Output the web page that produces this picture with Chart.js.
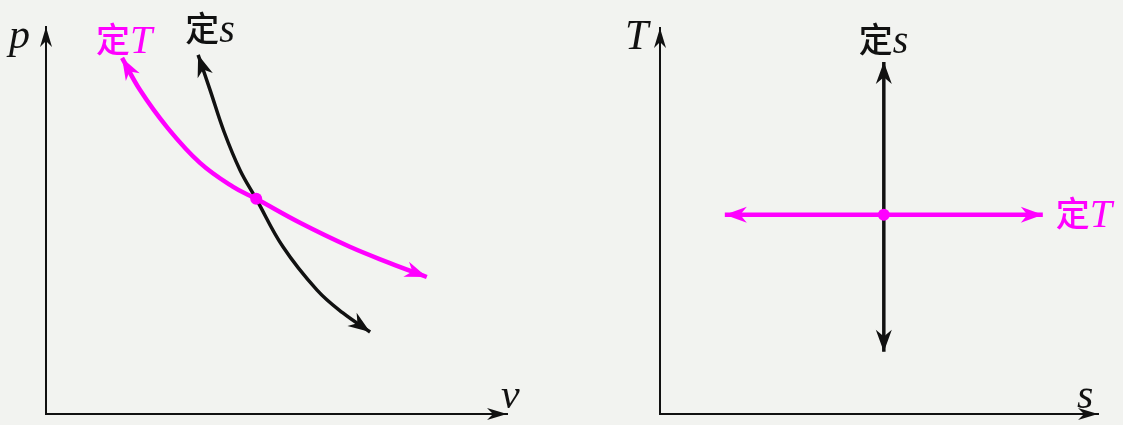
<!DOCTYPE html>
<html>
<head>
<meta charset="utf-8">
<script src="https://cdn.jsdelivr.net/npm/chart.js@4.4.1/dist/chart.umd.min.js"></script>
<style>
  html, body { margin: 0; padding: 0; background: #f2f3f0; overflow: hidden; }
  #wrap { position: relative; width: 1123px; height: 425px; }
  canvas { position: absolute; top: 0; }
  #pv { left: 0; }
  #ts { left: 560px; }
</style>
</head>
<body>
<div id="wrap">
  <canvas id="pv" width="560" height="425"></canvas>
  <canvas id="ts" width="563" height="425"></canvas>
</div>
<script>
// p-v diagram: isotherm (定T) and isentrope (定s) through one state
const isoTVolume = [1.65, 2.04, 2.62, 3.34, 4.06, 4.56, 5.51, 6.59, 7.46, 8.26];
const isoTPressure = [9.20, 8.37, 7.42, 6.49, 5.87, 5.56, 4.94, 4.32, 3.90, 3.54];
const isoSVolume = [3.30, 3.56, 3.86, 4.21, 4.56, 5.14, 5.88, 6.44, 7.03];
const isoSPressure = [9.28, 8.37, 7.30, 6.30, 5.56, 4.32, 3.20, 2.61, 2.12];
const pvState = [4.56, 5.56];

// T-s diagram: same two processes are straight lines
const tsIsoSEntropy = [5.11, 5.11];
const tsIsoSTemp = [1.61, 9.12];
const tsIsoTEntropy = [1.48, 8.74];
const tsIsoTTemp = [5.16, 5.16];
const tsState = [5.11, 5.16];

const pvAxisLabels = ['p', 'v'];
const tsAxisLabels = ['T', 's'];
const processLabels = ['定', 'T', 's'];

const MAGENTA = '#ff00ff';
const INK = '#111111';
const CJK = '"Noto Sans CJK SC", "Noto Sans", sans-serif';
const SERIF = '"Liberation Serif", "DejaVu Serif", serif';

function zip(xs, ys) {
    return xs.map((x, i) => ({ x: x, y: ys[i] }));
}

function arrowHead(ctx, tipX, tipY, fromX, fromY, len, half, color) {
    const a = Math.atan2(tipY - fromY, tipX - fromX);
    ctx.save();
    ctx.translate(tipX, tipY);
    ctx.rotate(a);
    ctx.fillStyle = color;
    ctx.beginPath();
    ctx.moveTo(0, 0);
    ctx.lineTo(-len, -half);
    ctx.lineTo(-len * 0.7, 0);
    ctx.lineTo(-len, half);
    ctx.closePath();
    ctx.fill();
    ctx.restore();
}

// "定" + italic letter
function processLabel(ctx, x, cy, letter, color) {
    ctx.save();
    ctx.fillStyle = color;
    ctx.font = '500 34px ' + CJK;
    ctx.textBaseline = 'middle';
    ctx.textAlign = 'left';
    ctx.fillText(processLabels[0], x, cy);
    const w = ctx.measureText(processLabels[0]).width;
    ctx.font = 'italic 40px ' + SERIF;
    ctx.textBaseline = 'alphabetic';
    ctx.fillText(letter, x + w, cy + 14);
    ctx.restore();
}

function axisText(ctx, text, x, y) {
    ctx.save();
    ctx.fillStyle = INK;
    ctx.font = 'italic 42px ' + SERIF;
    ctx.textBaseline = 'alphabetic';
    ctx.textAlign = 'left';
    ctx.fillText(text, x, y);
    ctx.restore();
}

// arrows on the axes and on both ends of every process line
const arrowPlugin = {
    id: 'arrows',
    afterDatasetsDraw(chart) {
        const ctx = chart.ctx;
        const ca = chart.chartArea;
        arrowHead(ctx, ca.left, ca.top, ca.left, ca.top + 30, 20, 6, INK);
        arrowHead(ctx, ca.right, ca.bottom, ca.right - 30, ca.bottom, 20, 6, INK);

        chart.data.datasets.forEach((ds, i) => {
            if (!ds.arrows) return;
            const pts = chart.getDatasetMeta(i).data;
            const first = pts[0], second = pts[1];
            const last = pts[pts.length - 1], prev = pts[pts.length - 2];
            const fx = first.cp2x !== undefined && first.cp2x !== first.x ? first.cp2x : second.x;
            const fy = first.cp2y !== undefined && first.cp2x !== first.x ? first.cp2y : second.y;
            const lx = last.cp1x !== undefined && last.cp1x !== last.x ? last.cp1x : prev.x;
            const ly = last.cp1y !== undefined && last.cp1x !== last.x ? last.cp1y : prev.y;
            arrowHead(ctx, first.x, first.y, fx, fy, 22, 8, ds.borderColor);
            arrowHead(ctx, last.x, last.y, lx, ly, 22, 8, ds.borderColor);
        });
    },
    afterDraw(chart) {
        const ctx = chart.ctx;
        const ca = chart.chartArea;
        const o = chart.options.plugins.arrows;
        axisText(ctx, o.yLabel, ca.left + o.yLabelDx, ca.top + 21);
        axisText(ctx, o.xLabel, ca.right + o.xLabelDx, ca.bottom - 6);
        o.tags.forEach(t => {
            const pts = chart.getDatasetMeta(t.dataset).data;
            const p = t.end === 'last' ? pts[pts.length - 1] : pts[0];
            processLabel(ctx, p.x + t.dx, p.y + t.dy, t.letter, t.color);
        });
    }
};

function axisScale(min, max) {
    return {
        type: 'linear',
        min: min,
        max: max,
        grid: { display: false, drawTicks: false },
        ticks: { display: false },
        border: { display: true, color: INK, width: 2 },
        afterFit(scale) {
            if (scale.isHorizontal()) scale.height = 0; else scale.width = 0;
        }
    };
}

function makeChart(id, datasets, padding, arrowsOpts) {
    return new Chart(document.getElementById(id), {
        type: 'line',
        data: { datasets: datasets },
        options: {
            responsive: false,
            animation: false,
            layout: { padding: padding },
            plugins: {
                legend: { display: false },
                tooltip: { enabled: false },
                arrows: arrowsOpts
            },
            scales: { x: axisScale(0, 10), y: axisScale(0, 10) }
        },
        plugins: [arrowPlugin]
    });
}

makeChart('pv', [
    {
        data: [{ x: pvState[0], y: pvState[1] }],
        pointRadius: 6, pointBackgroundColor: MAGENTA, pointBorderWidth: 0,
        showLine: false, order: 0
    },
    {
        data: zip(isoTVolume, isoTPressure), arrows: true,
        borderColor: MAGENTA, borderWidth: 4.5, pointRadius: 0,
        tension: 0.4, order: 1
    },
    {
        data: zip(isoSVolume, isoSPressure), arrows: true,
        borderColor: INK, borderWidth: 3.5, pointRadius: 0,
        tension: 0.4, order: 2
    }
], { left: 46, top: 27, right: 53, bottom: 11 }, {
    yLabel: pvAxisLabels[0], yLabelDx: -37,
    xLabel: pvAxisLabels[1], xLabelDx: -6,
    tags: [
        { dataset: 1, end: 'first', dx: -26, dy: -19, letter: processLabels[1], color: MAGENTA },
        { dataset: 2, end: 'first', dx: -13, dy: -27, letter: processLabels[2], color: INK }
    ]
});

makeChart('ts', [
    {
        data: [{ x: tsState[0], y: tsState[1] }],
        pointRadius: 6, pointBackgroundColor: MAGENTA, pointBorderWidth: 0,
        showLine: false, order: 0
    },
    {
        data: zip(tsIsoTEntropy, tsIsoTTemp), arrows: true,
        borderColor: MAGENTA, borderWidth: 4.5, pointRadius: 0, order: 1
    },
    {
        data: zip(tsIsoSEntropy, tsIsoSTemp), arrows: true,
        borderColor: INK, borderWidth: 3.5, pointRadius: 0, order: 2
    }
], { left: 100, top: 28, right: 25, bottom: 11 }, {
    yLabel: tsAxisLabels[0], yLabelDx: -35,
    xLabel: tsAxisLabels[1], xLabelDx: -21,
    tags: [
        { dataset: 2, end: 'last', dx: -25, dy: -23, letter: processLabels[2], color: INK },
        { dataset: 1, end: 'last', dx: 13, dy: -2, letter: processLabels[1], color: MAGENTA }
    ]
});
</script>
</body>
</html>
